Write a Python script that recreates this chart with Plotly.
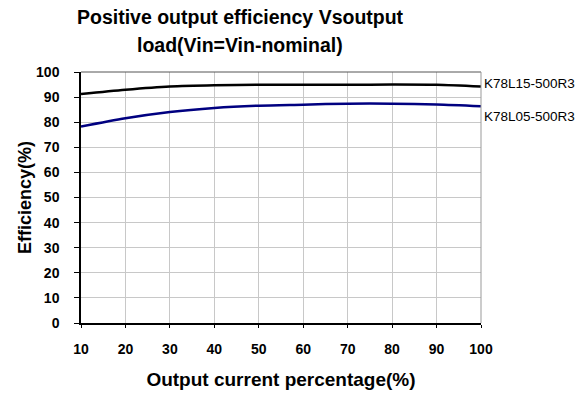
import plotly.graph_objects as go

load_pct = [10, 20, 30, 40, 50, 60, 70, 80, 90, 100]
eff_k78l15 = [91.2, 92.9, 94.2, 94.7, 94.9, 94.9, 94.9, 95.0, 94.9, 94.2]
eff_k78l05 = [78.3, 81.6, 84.1, 85.7, 86.6, 87.0, 87.4, 87.4, 87.1, 86.4]
series_names = ["K78L15-500R3", "K78L05-500R3"]
title_lines = ["Positive output efficiency Vsoutput", "load(Vin=Vin-nominal)"]
x_ticks = [10, 20, 30, 40, 50, 60, 70, 80, 90, 100]
y_ticks = [0, 10, 20, 30, 40, 50, 60, 70, 80, 90, 100]

FONT = "Liberation Sans, Arial, sans-serif"
W, H = 587, 398
L, R, T, B = 81, 106, 72, 75
PH = H - T - B
PW = W - L - R

fig = go.Figure()
fig.add_trace(go.Scatter(x=load_pct, y=eff_k78l15, mode="lines", name=series_names[0],
                         line=dict(color="#000000", width=2.5, shape="spline", smoothing=0.8)))
fig.add_trace(go.Scatter(x=load_pct, y=eff_k78l05, mode="lines", name=series_names[1],
                         line=dict(color="#000080", width=2.5, shape="spline", smoothing=0.8)))

# series labels at the right edge
fig.add_annotation(x=1.0, xref="paper", y=95.3, yref="y", text=series_names[0],
                   showarrow=False, xanchor="left", xshift=1,
                   font=dict(family=FONT, size=13.5, color="#000000"))
fig.add_annotation(x=1.0, xref="paper", y=82.1, yref="y", text=series_names[1],
                   showarrow=False, xanchor="left", xshift=1,
                   font=dict(family=FONT, size=13.5, color="#000000"))

# two-line title
title_x = (240 - L) / PW
for line, ypx in zip(title_lines, [17, 45]):
    fig.add_annotation(x=title_x, xref="paper", y=(H - B - ypx) / PH, yref="paper",
                       text=f"<b>{line}</b>", showarrow=False,
                       xanchor="center", yanchor="middle",
                       font=dict(family=FONT, size=19.5, color="#000000"))

# top and right plot-border
fig.add_shape(type="line", xref="paper", yref="paper", x0=0, x1=1, y0=1, y1=1,
              line=dict(color="#555555", width=1))
fig.add_shape(type="line", xref="paper", yref="paper", x0=1, x1=1, y0=0, y1=1,
              line=dict(color="#999999", width=1))

fig.update_layout(
    width=W, height=H,
    margin=dict(l=L, r=R, t=T, b=B, autoexpand=False),
    paper_bgcolor="white", plot_bgcolor="white",
    showlegend=False,
    font=dict(family=FONT, color="#000000"),
)
fig.update_xaxes(
    range=[10, 100], tickvals=x_ticks, ticktext=[f"<b>{v}</b>" for v in x_ticks],
    showgrid=True, gridcolor="#c8c8c8", gridwidth=1,
    showline=True, linecolor="#000000", linewidth=1.5,
    ticks="outside", ticklen=3, tickcolor="#000000",
    ticklabelstandoff=9, automargin=False,
    tickfont=dict(family=FONT, size=14, color="#000000"),
    title=dict(text="<b>Output current percentage(%)</b>", standoff=17,
               font=dict(family=FONT, size=19, color="#000000")),
    zeroline=False,
)
fig.update_yaxes(
    range=[0, 100], tickvals=y_ticks, ticktext=[f"<b>{v}</b>" for v in y_ticks],
    showgrid=True, gridcolor="#c8c8c8", gridwidth=1,
    showline=True, linecolor="#000000", linewidth=1.5,
    ticks="outside", ticklen=5, tickcolor="#000000",
    ticklabelstandoff=12, automargin=False,
    tickfont=dict(family=FONT, size=14, color="#000000"),
    title=dict(text="<b>Efficiency(%)</b>", standoff=0,
               font=dict(family=FONT, size=18, color="#000000")),
    zeroline=False,
)

fig.write_html("out.html", config={"displayModeBar": False},
               post_script="document.body.style.margin='0';document.body.style.padding='0';")
